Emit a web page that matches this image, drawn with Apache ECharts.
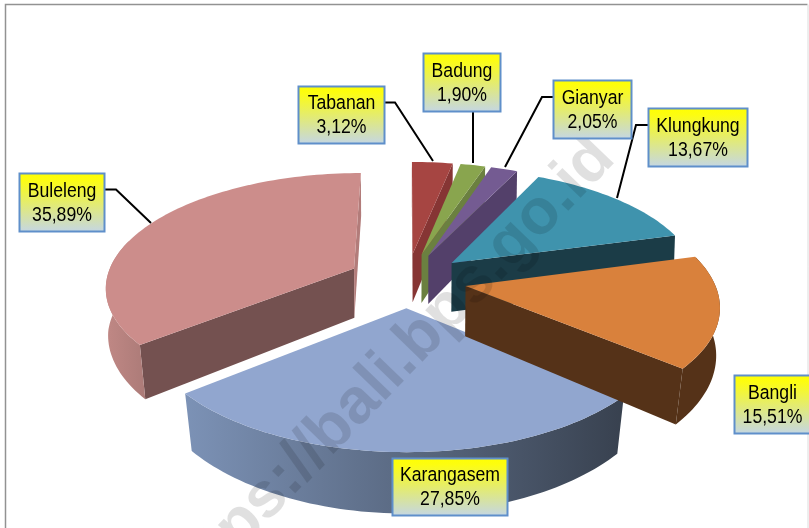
<!DOCTYPE html>
<html>
<head>
<meta charset="utf-8">
<style>html,body{margin:0;padding:0;background:#fff}#c{width:809px;height:528px}</style>
<script src="https://cdn.jsdelivr.net/npm/echarts@6/dist/echarts.min.js"></script>
</head>
<body>
<div id="c"></div>
<script>
// ---- data ----
const categories = ['Tabanan', 'Badung', 'Gianyar', 'Klungkung', 'Bangli', 'Karangasem', 'Buleleng'];
const shares = [3.12, 1.90, 2.05, 13.67, 15.51, 27.85, 35.89];
const watermarkText = 'https://bali.bps.go.id';

// ---- styling ----
const topColors  = ['#a64542', '#89a54e', '#745b92', '#3f93ad', '#d9813c', '#91a6cf', '#cc8d8b'];
const wallColors = ['#863534', '#6b8040', '#53406a', '#1b3c47', '#553218', '#3a4355', '#745150'];
const endWallColors = ['#863534', '#6b8040', '#53406a', '#1b3c47', '#553218', '#3a4355', '#b27c7a'];
const rimStops = [
  ['#863534', '#863534'], ['#6b8040', '#6b8040'], ['#53406a', '#53406a'], ['#1b3c47', '#1b3c47'],
  ['#553218', '#553218'], ['#7c92b6', '#38414f'], ['#c08885', '#ac7b78']
];
const drawOrder = [0, 1, 2, 6, 3, 5, 4];

// label boxes: [x, y, w, h]; leader: polyline
const labelBoxes = [
  [298, 86, 86, 57], [423, 53, 77, 58], [553, 80, 78, 58], [648, 108, 99, 58],
  [734, 375, 76, 58], [392, 458, 115, 57], [19, 173, 85, 58]
];
const leaders = [
  [[384, 102.5], [395, 102.5], [433, 161]],
  [[473, 111], [473, 163]],
  [[553, 97], [542, 97], [505, 167]],
  [[648, 125], [636, 125], [617, 198]],
  null, null,
  [[104, 189.5], [116, 189.5], [151, 223]]
];

// ---- 3D projection of the exploded pie ----
const view = { cx: 407, cy: 280, a: 248, b: 113, persp: 0.15, height: 50, explode: 0.24, taper: 0.994, taperFront: 0.027 };
const total = shares.reduce((s, v) => s + v, 0);
const spans = [];
shares.reduce((acc, v) => {
  const end = acc + v / total * 360;
  spans.push([acc, end]);
  return end;
}, 0);
const rad = d => d * Math.PI / 180;
function project(u, v, lifted) {
  const w = 1 + view.persp * v;
  const sx = lifted ? 1 : view.taper + view.taperFront * Math.min(v, 0);
  return [view.cx + sx * view.a * u / w, view.cy - view.b * v / w + (lifted ? 0 : view.height / w)];
}
function area(pts) {
  let s = 0;
  pts.forEach((p, i) => { const q = pts[(i + 1) % pts.length]; s += p[0] * q[1] - q[0] * p[1]; });
  return s / 2;
}
function arc(o, from, to, lifted) {
  const pts = [], n = Math.max(2, Math.ceil(Math.abs(to - from) / 1.5));
  for (let i = 0; i <= n; i++) {
    const t = rad(from + (to - from) * i / n);
    pts.push(project(o[0] + Math.sin(t), o[1] + Math.cos(t), lifted));
  }
  return pts;
}
function poly(points, fill) {
  return { type: 'polygon', shape: { points }, style: { fill, stroke: null } };
}

function renderItem(params) {
  const i = drawOrder[params.dataIndex];
  const [s, e] = spans[i];
  const mid = rad((s + e) / 2);
  const o = [view.explode * Math.sin(mid), view.explode * Math.cos(mid)];
  const apexT = project(o[0], o[1], true), apexB = project(o[0], o[1], false);
  const children = [];
  const wall = (t, visibleSign, color) => {
    const a = rad(t);
    const rimT = project(o[0] + Math.sin(a), o[1] + Math.cos(a), true);
    const rimB = project(o[0] + Math.sin(a), o[1] + Math.cos(a), false);
    const pts = [apexT, rimT, rimB, apexB];
    if (area(pts) * visibleSign > 0) children.push(poly(pts, color));
  };
  wall(s, -1, wallColors[i]);
  wall(e, 1, endWallColors[i]);
  const rs = Math.max(s, 75), re = Math.min(e, 285);
  if (re > rs) {
    const rim = arc(o, rs, re, true).concat(arc(o, re, rs, false));
    children.push(poly(rim, new echarts.graphic.LinearGradient(
      0, 0, 1, 0, [{ offset: 0, color: rimStops[i][0] }, { offset: 1, color: rimStops[i][1] }]
    )));
  }
  const face = [apexT].concat(arc(o, s, e, true));
  children.push(poly(face, topColors[i]));
  return { type: 'group', children };
}

// ---- non-series graphics ----
const graphics = [
  { type: 'polyline', z: 1, shape: { points: [[5.5, 540], [5.5, 4.5], [807.5, 4.5]] },
    style: { fill: null, stroke: '#929292', lineWidth: 1.5 } },
  { type: 'line', z: 1, shape: { x1: 808, y1: 4.5, x2: 808, y2: 540 },
    style: { stroke: '#dcdcdc', lineWidth: 1 } },
  { type: 'text', z: 10, x: 387, y: 373, rotation: rad(46),
    style: { text: watermarkText, font: 'bold 64px "Liberation Sans"', fill: 'rgba(0,0,0,0.12)',
      align: 'center', verticalAlign: 'middle' } }
];
leaders.forEach(points => {
  if (points) graphics.push({ type: 'polyline', z: 15, shape: { points },
    style: { stroke: '#000', lineWidth: 2, fill: null } });
});
categories.forEach((name, i) => {
  const [x, y, w, h] = labelBoxes[i];
  graphics.push({ type: 'rect', z: 20, shape: { x: x + 0.5, y: y + 0.5, width: w, height: h },
    style: { stroke: '#5f8fca', lineWidth: 2, fill: new echarts.graphic.LinearGradient(0, 0, 0, 1, [
      { offset: 0, color: '#ffff00' }, { offset: 0.12, color: '#fdfd10' }, { offset: 1, color: '#c4d6e6' }
    ]) } });
  graphics.push({ type: 'text', z: 21, x: x + w / 2 + 0.5, y: y + h / 2 + 1, scaleX: 0.86,
    style: { text: name + '\n' + shares[i].toFixed(2).replace('.', ',') + '%',
      font: '20.5px "Liberation Sans"', lineHeight: 24, fill: '#000',
      align: 'center', verticalAlign: 'middle' } });
});

const chart = echarts.init(document.getElementById('c'), null, { renderer: 'canvas' });
chart.setOption({
  animation: false,
  backgroundColor: '#fff',
  graphic: { elements: graphics },
  series: [{
    type: 'custom',
    coordinateSystem: 'none',
    silent: true,
    renderItem,
    data: drawOrder.map(i => ({ name: categories[i], value: shares[i] }))
  }]
});
</script>
</body>
</html>
